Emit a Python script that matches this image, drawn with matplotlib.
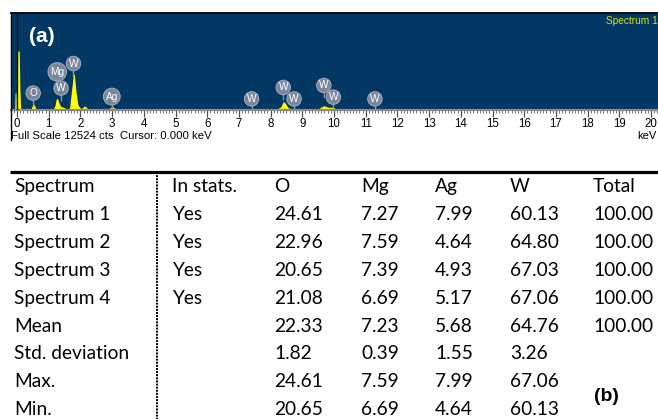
import matplotlib
matplotlib.use("Agg")
import matplotlib.pyplot as plt
from matplotlib.ticker import MultipleLocator

W_PX, H_PX, DPI = 658, 419, 100

# ---- EDS spectrum (outline points, keV vs counts) ----
energy_kev = [-0.20, -0.07, -0.06, -0.03, -0.02, 0.01, 0.02, 0.07, 0.09, 0.11, 0.13,
              0.40, 0.44, 0.48, 0.52, 0.56, 0.60, 0.65, 0.80, 1.00, 1.15, 1.20,
              1.24, 1.28, 1.33, 1.38, 1.46, 1.52, 1.60, 1.66, 1.72, 1.78, 1.81,
              1.86, 1.92, 1.98, 2.05, 2.10, 2.16, 2.22, 2.30, 2.90, 2.95, 3.02,
              3.08, 3.15, 8.20, 8.32, 8.40, 8.46, 8.55, 8.65, 9.50, 9.60, 9.69,
              9.78, 9.85, 9.98, 10.05, 20.30]
counts = [0, 0, 2200, 2200, 0, 0, 7600, 7600, 3000, 600, 0,
          60, 100, 500, 850, 500, 150, 60, 100, 120, 150, 600,
          1450, 1450, 900, 450, 350, 250, 150, 300, 2500, 4600, 4600,
          2400, 700, 300, 200, 450, 480, 200, 130, 130, 350, 400,
          250, 130, 130, 400, 1080, 900, 300, 150, 130, 400, 560,
          400, 350, 350, 150, 130]
full_scale = 12524

peak_labels = ["O", "Mg", "W", "W", "Ag", "W", "W", "W", "W", "W", "W"]
label_kev = [0.51, 1.27, 1.39, 1.78, 2.99, 7.40, 8.40, 8.74, 9.68, 9.98, 11.29]
label_counts = [2180, 4920, 2830, 6000, 1730, 1430, 2910, 1430, 3170, 1660, 1430]

# ---- Quantification table (wt%) ----
columns = ["Spectrum", "In stats.", "O", "Mg", "Ag", "W", "Total"]
spectra = ["Spectrum 1", "Spectrum 2", "Spectrum 3", "Spectrum 4"]
in_stats = ["Yes", "Yes", "Yes", "Yes"]
o_wt = [24.61, 22.96, 20.65, 21.08]
mg_wt = [7.27, 7.59, 7.39, 6.69]
ag_wt = [7.99, 4.64, 4.93, 5.17]
w_wt = [60.13, 64.80, 67.03, 67.06]
total_wt = [100.00, 100.00, 100.00, 100.00]
stat_rows = ["Mean", "Std. deviation", "Max.", "Min."]
o_stats = [22.33, 1.82, 24.61, 20.65]
mg_stats = [7.23, 0.39, 7.59, 6.69]
ag_stats = [5.68, 1.55, 7.99, 4.64]
w_stats = [64.76, 3.26, 67.06, 60.13]
total_stats = [100.00, None, None, None]

fig = plt.figure(figsize=(W_PX / DPI, H_PX / DPI), dpi=DPI)
fig.patch.set_facecolor("white")

SANS = "Liberation Sans"
BG = "#033764"

# spectrum panel geometry (pixels)
px_left, px_top, px_base = 11, 13, 110
px_zero, px_per_kev = 17, 31.7
ax = fig.add_axes([px_left / W_PX, (H_PX - px_base) / H_PX,
                   (W_PX - px_left) / W_PX, (px_base - px_top) / H_PX])
ax.set_facecolor(BG)
ax.set_xlim(-(px_zero - px_left) / px_per_kev, (W_PX - px_zero) / px_per_kev)
ax.set_ylim(0, full_scale)
ax.fill_between(energy_kev, counts, 0, color="#ffff00", lw=0, zorder=2)
ax.axvline(0, color="#111111", lw=1.0, zorder=3)

for s in ["top", "right", "left"]:
    ax.spines[s].set_visible(False)
ax.spines["bottom"].set_color("#8a8a8a")
ax.spines["bottom"].set_linewidth(1.6)
ax.set_yticks([])
ax.xaxis.set_major_locator(MultipleLocator(1))
ax.xaxis.set_minor_locator(MultipleLocator(0.1))
ax.tick_params(axis="x", which="major", length=5, width=0.9, color="#505050",
               labelsize=8.3, pad=1)
ax.tick_params(axis="x", which="minor", length=2.5, width=0.7, color="#707070")
ax.set_xticks(range(0, 21))
for t in ax.get_xticklabels():
    t.set_fontfamily(SANS)

# element markers
px2cnt = full_scale / (px_base - px_top)
for lab, xk, yc in zip(peak_labels, label_kev, label_counts):
    ax.plot([xk, xk], [yc, yc - 12 * px2cnt], color="#8c96a8", lw=1.0, zorder=4)
    ax.text(xk, yc, lab, ha="center", va="center", color="white", fontsize=7.3,
            family=SANS, zorder=5,
            bbox=dict(boxstyle="circle,pad=0.22", fc="#7b879c", ec="#a3abbb", lw=0.7))

fig.text(29 / W_PX, 1 - 37 / H_PX, "(a)", color="white", fontsize=15,
         fontweight="bold", family=SANS, va="center", ha="left")
fig.text(606 / W_PX, 1 - 21 / H_PX, "Spectrum 1", color="#d4e60a", fontsize=7.3,
         family=SANS, va="center", ha="left")
fig.text(11 / W_PX, 1 - 136 / H_PX, "Full Scale 12524 cts  Cursor: 0.000 keV",
         color="black", fontsize=8.2, family=SANS, va="center", ha="left")
fig.text(637 / W_PX, 1 - 136 / H_PX, "keV", color="black", fontsize=8,
         family=SANS, va="center", ha="left")

# frame lines on top and left of the spectrum window
frame = fig.add_axes([0, 0, 1, 1], zorder=10)
frame.set_xlim(0, W_PX)
frame.set_ylim(H_PX, 0)
frame.axis("off")
frame.patch.set_alpha(0)
frame.plot([px_left, W_PX], [px_top, px_top], color="black", lw=1.3)
frame.plot([px_left, px_left], [px_top, 140], color="black", lw=1.0)

# table
frame.plot([10, W_PX], [172, 172], color="black", lw=2.3, solid_capstyle="butt")
frame.plot([157, 157], [172, H_PX], color="black", lw=1.4, ls=(0, (1, 0.6)))

col_x = [14, 172, 274, 361, 435, 510, 593]
row_y0, row_dy = 186.5, 27.9
TFONT = "Lato"
TSIZE = 13.8


def cell(x, y, s):
    frame.text(x, y, s, ha="left", va="center", fontsize=TSIZE, family=TFONT,
               color="black")


for x, c in zip(col_x, columns):
    cell(x, row_y0, c)

rows = []
for i in range(len(spectra)):
    rows.append([spectra[i], in_stats[i], o_wt[i], mg_wt[i], ag_wt[i], w_wt[i],
                 total_wt[i]])
for i in range(len(stat_rows)):
    rows.append([stat_rows[i], "", o_stats[i], mg_stats[i], ag_stats[i],
                 w_stats[i], total_stats[i]])

for r, row in enumerate(rows):
    y = row_y0 + (r + 1) * row_dy
    for x, v in zip(col_x, row):
        if v is None or v == "":
            continue
        cell(x, y, v if isinstance(v, str) else f"{v:.2f}")

frame.text(594, 396, "(b)", ha="left", va="center", fontsize=14,
           fontweight="bold", family=SANS, color="black")

fig.savefig("out.png", dpi=DPI, facecolor="white")
